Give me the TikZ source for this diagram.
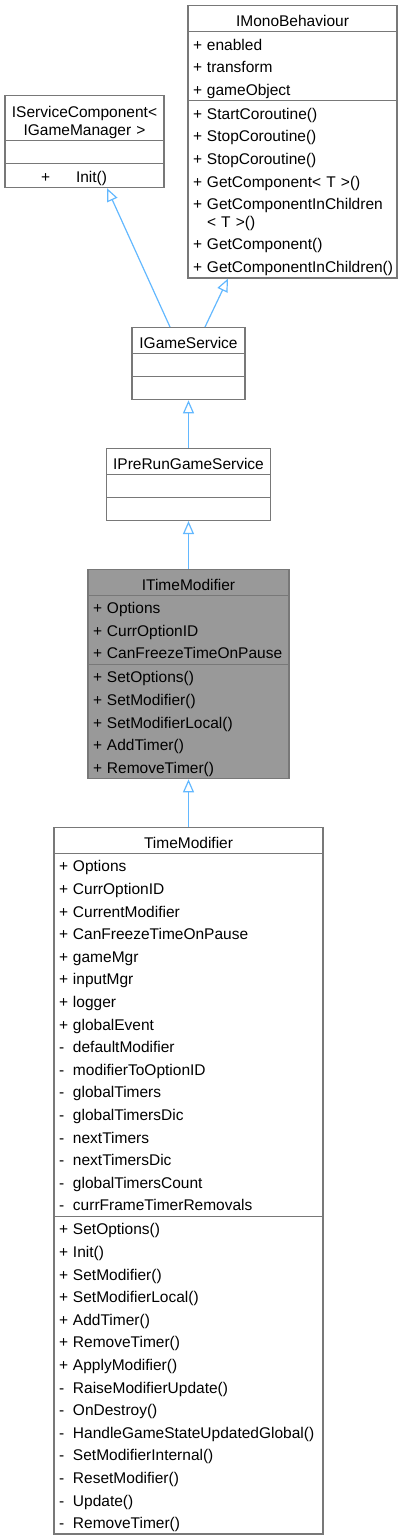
\documentclass[tikz,border=0pt]{standalone}
\usepackage{fontspec}
\setmainfont{Liberation Sans}
\usetikzlibrary{
  arrows.meta,
  positioning,
  shapes.multipart
}
\definecolor{boxgray}{HTML}{787878}
\definecolor{curgray}{HTML}{999999}
\definecolor{edgeblue}{HTML}{63B8FF}
% one member row: visibility mark and name
\newcommand\mrow[2]{\mbox{\rule[-4.8pt]{0pt}{22.6pt}\makebox[14pt][l]{#1}#2}}
\newcommand\ctitle[1]{\hbox to \hsize{\hfil\rule[-4.5pt]{0pt}{24.7pt}#1\hfil}}
\newcommand\erow{\rule[-4.8pt]{0pt}{21.7pt}}
\newcommand\tightlines{\lineskip=0pt\lineskiplimit=0pt}

\begin{document}
\begin{tikzpicture}[x=1pt, y=-1pt,
  node distance=47.5pt,
  cls/.style={rectangle split, rectangle split parts=3,
              draw=boxgray, line width=1.3pt, fill=white,
              text width=#1, align=left, inner xsep=5pt, inner ysep=0pt,
              font=\fontsize{15.5}{17.7}\selectfont\tightlines},
  cur/.style={cls=#1, fill=curgray},
  inh/.style={-{Triangle[open, length=13pt, width=11pt]}, draw=edgeblue, line width=1.2pt}
]
\useasboundingbox (0,0) rectangle (402,1540);

\node[cls=199pt, anchor=north] (imb) at (292.5,5) {\ctitle{IMonoBehaviour}
  \nodepart{second}\tightlines\mrow{+}{enabled}\\\mrow{+}{transform}\\\mrow{+}{gameObject}
  \nodepart{third}\tightlines\mrow{+}{StartCoroutine()}\\\mrow{+}{StopCoroutine()}\\
  \mrow{+}{StopCoroutine()}\\\mrow{+}{GetComponent< T >()}\\
  \mbox{\rule{0pt}{17.8pt}\makebox[14pt][l]{+}GetComponentInChildren}\\
  \mbox{\rule[-4.8pt]{0pt}{4.8pt}\hspace*{14pt}< T >()}\\
  \mrow{+}{GetComponent()}\\\mrow{+}{GetComponentInChildren()}};
\node[cls=149pt, anchor=north] (isc) at (84.5,95) {\tightlines
  \hbox to \hsize{\hfil\rule{0pt}{21.5pt}IServiceComponent<\hfil}\\
  \hbox to \hsize{\hfil IGameManager >\rule[-4.5pt]{0pt}{4.5pt}\hfil}
  \nodepart{second}\erow
  \nodepart{third}\mbox{\rule[-4.8pt]{0pt}{22.6pt}\hspace*{31pt}+\hspace*{26pt}Init()}};
\node[cls=103pt, anchor=north] (igs) at (188.5,327) {\ctitle{IGameService}
  \nodepart{second}\erow
  \nodepart{third}\erow};
\node[cls=154pt, below=of igs] (iprgs) {\ctitle{IPreRunGameService}
  \nodepart{second}\erow
  \nodepart{third}\erow};
\node[cur=191pt, below=of iprgs] (itm) {\ctitle{ITimeModifier}
  \nodepart{second}\tightlines\mrow{+}{Options}\\\mrow{+}{CurrOptionID}\\\mrow{+}{CanFreezeTimeOnPause}
  \nodepart{third}\tightlines\mrow{+}{SetOptions()}\\\mrow{+}{SetModifier()}\\\mrow{+}{SetModifierLocal()}\\
  \mrow{+}{AddTimer()}\\\mrow{+}{RemoveTimer()}};
\node[cls=259pt, below=of itm] (tm) {\ctitle{TimeModifier}
  \nodepart{second}\tightlines\mrow{+}{Options}\\\mrow{+}{CurrOptionID}\\\mrow{+}{CurrentModifier}\\
  \mrow{+}{CanFreezeTimeOnPause}\\\mrow{+}{gameMgr}\\\mrow{+}{inputMgr}\\\mrow{+}{logger}\\
  \mrow{+}{globalEvent}\\\mrow{-}{defaultModifier}\\\mrow{-}{modifierToOptionID}\\
  \mrow{-}{globalTimers}\\\mrow{-}{globalTimersDic}\\\mrow{-}{nextTimers}\\
  \mrow{-}{nextTimersDic}\\\mrow{-}{globalTimersCount}\\\mrow{-}{currFrameTimerRemovals}
  \nodepart{third}\tightlines\mrow{+}{SetOptions()}\\\mrow{+}{Init()}\\\mrow{+}{SetModifier()}\\
  \mrow{+}{SetModifierLocal()}\\\mrow{+}{AddTimer()}\\\mrow{+}{RemoveTimer()}\\
  \mrow{+}{ApplyModifier()}\\\mrow{-}{RaiseModifierUpdate()}\\\mrow{-}{OnDestroy()}\\
  \mrow{-}{HandleGameStateUpdatedGlobal()}\\\mrow{-}{SetModifierInternal()}\\
  \mrow{-}{ResetModifier()}\\\mrow{-}{Update()}\\\mrow{-}{RemoveTimer()}};

% inheritance
\draw[inh] ([xshift=-18.5pt]igs.north) -- ([xshift=22.5pt]isc.south);
\draw[inh] ([xshift=16.5pt]igs.north) -- ([xshift=-64.5pt]imb.south);
\draw[inh] (iprgs) -- (igs);
\draw[inh] (itm) -- (iprgs);
\draw[inh] (tm) -- (itm);
\end{tikzpicture}
\end{document}
